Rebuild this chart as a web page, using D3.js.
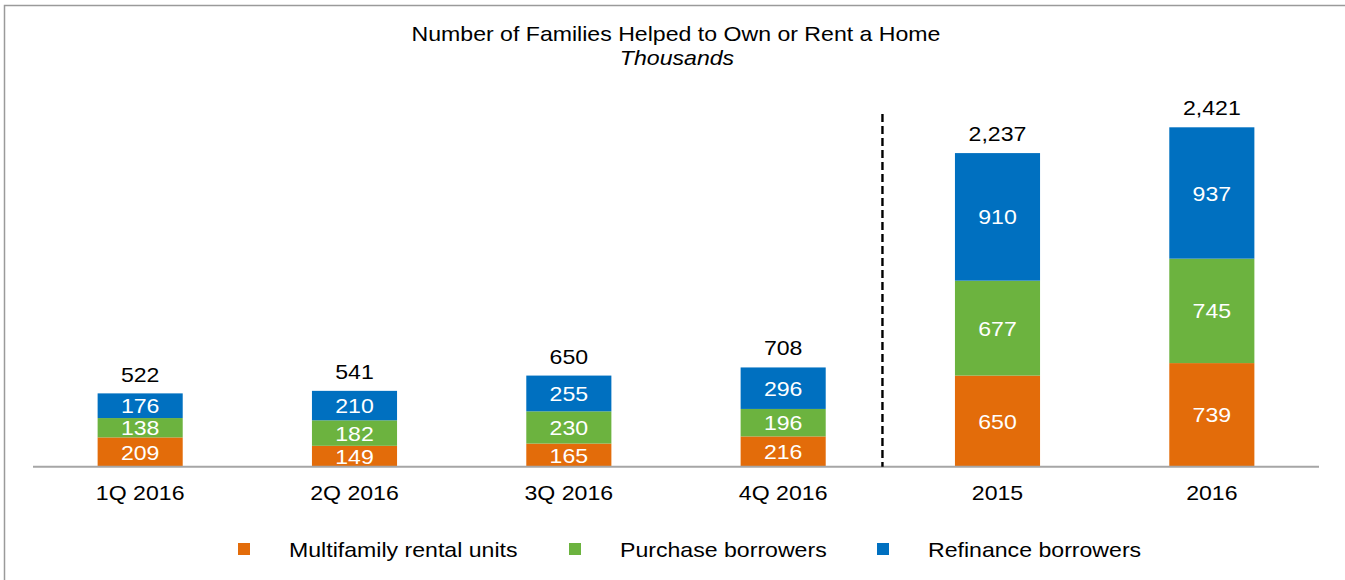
<!DOCTYPE html>
<html><head><meta charset="utf-8">
<script src="https://cdn.jsdelivr.net/npm/d3@7"></script>
<style>
html,body{margin:0;padding:0;background:#fff;}
svg{display:block;font-family:"Liberation Sans",Arial,sans-serif;}
</style></head>
<body>
<svg id="chart" width="1345" height="580"></svg>
<script>
const categories = ["1Q 2016","2Q 2016","3Q 2016","4Q 2016","2015","2016"];
const multifamily = [209,149,165,216,650,739];
const purchase = [138,182,230,196,677,745];
const refinance = [176,210,255,296,910,937];
const totals = [522,541,650,708,2237,2421];
const seriesNames = ["Multifamily rental units","Purchase borrowers","Refinance borrowers"];
const seriesKeys = ["multifamily","purchase","refinance"];
const colors = ["#E36C0A","#6CB33F","#0070C0"];

const svg = d3.select("#chart");
const baseY = 466.7;
const FS = 21;

// frame
svg.append("path").attr("d","M4.5,580 V5.5 H1345").attr("fill","none").attr("stroke","#9a9a9a").attr("stroke-width",1.5);

const rows = categories.map((c,i)=>({cat:c, multifamily:multifamily[i], purchase:purchase[i], refinance:refinance[i], total:totals[i]}));

const x = d3.scaleBand().domain(categories).range([33,1319]).paddingInner(0.603).paddingOuter(0.3015);
const y = d3.scaleLinear().domain([0,2421]).range([baseY,127.3]);

const stacked = d3.stack().keys(seriesKeys)(rows);

const g = svg.append("g");
stacked.forEach((layer,li)=>{
  g.selectAll(null).data(layer).enter().append("rect")
    .attr("x",d=>x(d.data.cat))
    .attr("width",x.bandwidth())
    .attr("y",d=>y(d[1]))
    .attr("height",d=>y(d[0])-y(d[1]))
    .attr("fill",colors[li]);
  g.selectAll(null).data(layer).enter().append("text")
    .attr("x",d=>x(d.data.cat)+x.bandwidth()/2)
    .attr("y",d=>(y(d[0])+y(d[1]))/2)
    .attr("dy","0.36em")
    .attr("text-anchor","middle")
    .attr("fill","#fff")
    .attr("font-size",FS)
    .text(d=>d3.format(",")(d[1]-d[0]));
});

// totals
g.selectAll(null).data(rows).enter().append("text")
  .attr("x",d=>x(d.cat)+x.bandwidth()/2)
  .attr("y",d=>y(d.total)-12)
  .attr("text-anchor","middle")
  .attr("fill","#000")
  .attr("font-size",FS)
  .text(d=>d3.format(",")(d.total));

// axis
const axis = svg.append("g").attr("transform",`translate(0,${baseY})`)
  .call(d3.axisBottom(x).tickSize(0).tickPadding(18));
axis.select(".domain").attr("stroke","#A6A6A6").attr("stroke-width",2).attr("d","M33,0H1319");
axis.selectAll("text").attr("font-size",FS).attr("fill","#000").attr("font-family","Liberation Sans, Arial, sans-serif");

// dashed divider
const divX = x("2015") - 72.5;
svg.append("line").attr("x1",divX).attr("x2",divX).attr("y1",114).attr("y2",baseY)
  .attr("stroke","#000").attr("stroke-width",2.4).attr("stroke-dasharray","8,4");

// title
svg.append("text").attr("x",676).attr("y",41).attr("text-anchor","middle").attr("font-size",FS)
  .attr("fill","#000").text("Number of Families Helped to Own or Rent a Home");
svg.append("text").attr("x",677).attr("y",65).attr("text-anchor","middle").attr("font-size",FS)
  .attr("font-style","italic").attr("fill","#000").text("Thousands");

// legend
const legendX = [238,569,877];
const lg = svg.append("g");
seriesNames.forEach((n,i)=>{
  lg.append("rect").attr("x",legendX[i]).attr("y",543).attr("width",12).attr("height",12).attr("fill",colors[i]);
  lg.append("text").attr("x",legendX[i]+51).attr("y",556.5).attr("font-size",FS).attr("fill","#000").text(n);
});

// the reference glyphs are horizontally wider than Arial: stretch text a little
svg.selectAll("text").each(function(){
  const L = this.getComputedTextLength();
  d3.select(this).attr("textLength", L*1.1).attr("lengthAdjust","spacingAndGlyphs");
});
</script>
</body></html>
